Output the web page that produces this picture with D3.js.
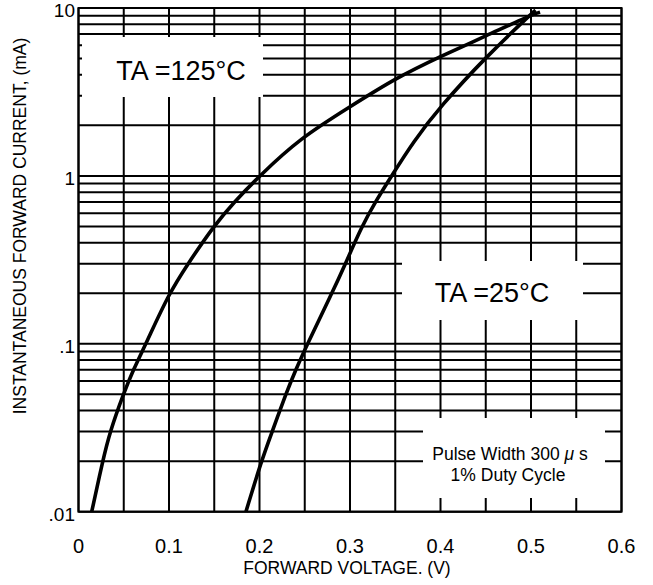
<!DOCTYPE html>
<html>
<head>
<meta charset="utf-8">
<script src="https://cdn.jsdelivr.net/npm/d3@7"></script>
<style>
  html, body { margin: 0; padding: 0; background: #fff; }
  svg { display: block; }
  text { font-family: "Liberation Sans", Arial, sans-serif; fill: #000; }
</style>
</head>
<body>
<svg id="chart" width="653" height="585"></svg>
<script>
// ---- data ----
const xTickValues = [0, 0.1, 0.2, 0.3, 0.4, 0.5, 0.6];
const xTickLabels = ["0", "0.1", "0.2", "0.3", "0.4", "0.5", "0.6"];
const yTickValues = [10, 1, 0.1, 0.01];
const yTickLabels = ["10", "1", ".1", ".01"];

// TA = 125 C curve (forward voltage V, current mA)
const v125 = [0.0146, 0.0267, 0.0348, 0.0495, 0.0605, 0.0745, 0.100, 0.121, 0.149, 0.172, 0.200, 0.245, 0.300, 0.350, 0.400, 0.450, 0.500, 0.510];
const i125 = [0.01,   0.02,   0.03,   0.05,   0.07,   0.10,   0.20,  0.30,  0.50,  0.70,  1.00,  1.68,  2.58,  3.81,  5.15,  6.81,  9.08,  9.45];

// TA = 25 C curve
const v25 = [0.185, 0.202, 0.214, 0.229, 0.240, 0.253, 0.280, 0.295, 0.313, 0.328, 0.346, 0.370, 0.400, 0.450, 0.500, 0.505];
const i25 = [0.01,  0.02,  0.03,  0.05,  0.07,  0.10,  0.20,  0.30,  0.50,  0.70,  1.00,  1.60,  2.60,  5.10,  9.20,  9.70];

// ---- layout ----
const svg = d3.select("#chart");
const L = 78.5, R = 621.5, T = 8, B = 511.7;

const x = d3.scaleLinear().domain([0, 0.6]).range([L, R]);
const y = d3.scaleLog().domain([0.01, 10]).range([B, T]);

// grid
const grid = svg.append("g").attr("stroke", "#000").attr("stroke-width", 2);
const xGrid = d3.range(0, 0.6001, 0.05);
grid.selectAll("line.v").data(xGrid).enter().append("line")
  .attr("x1", d => x(d)).attr("x2", d => x(d))
  .attr("y1", T).attr("y2", B);
grid.selectAll("line.h").data(y.ticks()).enter().append("line")
  .attr("x1", L).attr("x2", R)
  .attr("y1", d => y(d)).attr("y2", d => y(d));
svg.append("rect").attr("x", L).attr("y", T).attr("width", R - L).attr("height", B - T)
  .attr("fill", "none").attr("stroke", "#000").attr("stroke-width", 2);

// white annotation boxes
const boxes = [
  {x0: 82, x1: 263, y0: 37, y1: 97},
  {x0: 402, x1: 583, y0: 261, y1: 320},
  {x0: 423, x1: 605, y0: 418, y1: 498}
];
svg.selectAll("rect.box").data(boxes).enter().append("rect")
  .attr("x", d => d.x0).attr("y", d => d.y0)
  .attr("width", d => d.x1 - d.x0).attr("height", d => d.y1 - d.y0)
  .attr("fill", "#fff");

// curves
const line = d3.line().x(d => x(d[0])).y(d => y(d[1])).curve(d3.curveBasis);
[[v125, i125], [v25, i25]].forEach(([vs, is]) => {
  svg.append("path")
    .attr("d", line(vs.map((v, k) => [v, is[k]])))
    .attr("fill", "none").attr("stroke", "#000").attr("stroke-width", 3.6)
    .attr("stroke-linecap", "butt");
});

// tick labels
svg.selectAll("text.xt").data(xTickValues).enter().append("text")
  .attr("x", d => x(d)).attr("y", 553)
  .attr("text-anchor", "middle").attr("font-size", 20)
  .text((d, k) => xTickLabels[k]);
svg.selectAll("text.yt").data(yTickValues).enter().append("text")
  .attr("x", 75).attr("y", d => y(d) + 9)
  .attr("text-anchor", "end").attr("font-size", 19)
  .text((d, k) => yTickLabels[k]);

// axis titles
svg.append("text").attr("x", 347).attr("y", 574)
  .attr("text-anchor", "middle").attr("font-size", 17.5)
  .text("FORWARD VOLTAGE. (V)");
svg.append("text")
  .attr("transform", "translate(26,226) rotate(-90)")
  .attr("text-anchor", "middle").attr("font-size", 17.5)
  .text("INSTANTANEOUS FORWARD CURRENT, (mA)");

// annotations
svg.append("text").attr("x", 181).attr("y", 80).attr("text-anchor", "middle")
  .attr("font-size", 27).text("TA =125°C");
svg.append("text").attr("x", 492).attr("y", 302).attr("text-anchor", "middle")
  .attr("font-size", 27).text("TA =25°C");
const p = svg.append("text").attr("x", 510).attr("y", 460).attr("text-anchor", "middle")
  .attr("font-size", 17.5);
p.append("tspan").text("Pulse Width 300 ");
p.append("tspan").attr("font-style", "italic").text("μ");
p.append("tspan").text(" s");
svg.append("text").attr("x", 508).attr("y", 481).attr("text-anchor", "middle")
  .attr("font-size", 17.5).text("1% Duty Cycle");
</script>
</body>
</html>
